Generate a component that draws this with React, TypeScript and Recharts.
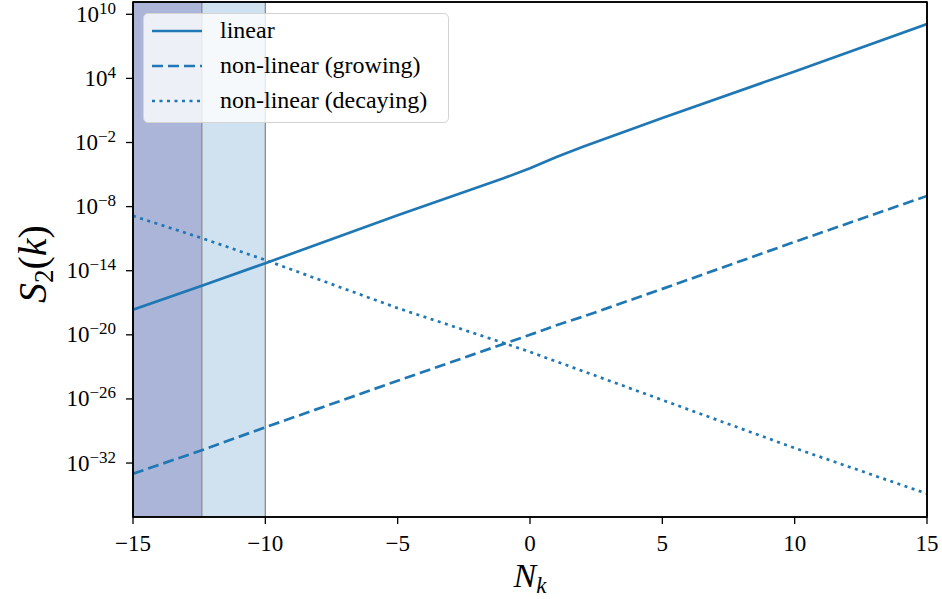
import {
  LineChart,
  Line,
  XAxis,
  YAxis,
  ReferenceArea,
  ReferenceLine,
} from 'recharts'

// N_k sample positions and log10(S2)
const nk = [-15, -12.4, -10, -5, -1, 0, 1, 2, 5, 10, 15]
const linearExp = [-17.64, -15.4, -13.3, -8.8, -5.35, -4.4, -3.35, -2.4, 0.3, 4.65, 9.08]
const growingExp = [-33.0, -30.8, -28.65, -24.3, -20.85, -20.0, -19.1, -18.3, -15.7, -11.3, -7.0]
const decayingExp = [-8.87, -10.95, -13.0, -17.5, -20.76, -21.6, -22.5, -23.4, -26.1, -30.6, -34.87]

const xTicks = [-15, -10, -5, 0, 5, 10, 15]
const yTickExps = [-32, -26, -20, -14, -8, -2, 4, 10]
const bandEdges = [-15, -12.4, -10]
const yDomain = [Math.pow(10, -37.05), Math.pow(10, 11.15)]

const data = nk.map((x, i) => ({
  x,
  linear: Math.pow(10, linearExp[i]),
  growing: Math.pow(10, growingExp[i]),
  decaying: Math.pow(10, decayingExp[i]),
}))
const yTicks = yTickExps.map((e) => Math.pow(10, e))

const SERIF = 'Liberation Serif, DejaVu Serif, serif'
const BLUE = '#1f77b4'
const minus = (n: number) => (n < 0 ? '\u2212' + -n : String(n))

function YTick({ x, y, payload }: any) {
  const e = Math.round(Math.log10(payload.value))
  return (
    <text x={x} y={y} dy={7.5} textAnchor="end" fontFamily={SERIF} fontSize={23} fill="#000">
      <tspan>10</tspan>
      <tspan dy={-8} fontSize={17}>{minus(e)}</tspan>
    </text>
  )
}

function XTick({ x, y, payload }: any) {
  return (
    <text x={x} y={y} dy={25} textAnchor="middle" fontFamily={SERIF} fontSize={23} fill="#000">
      {minus(payload.value)}
    </text>
  )
}

function Legend() {
  const rows = [
    { label: 'linear', dash: undefined },
    { label: 'non-linear (growing)', dash: '11 5' },
    { label: 'non-linear (decaying)', dash: '3 4.5' },
  ]
  return (
    <div
      style={{
        position: 'absolute',
        left: 143,
        top: 13,
        width: 306,
        height: 110,
        boxSizing: 'border-box',
        background: 'rgba(255,255,255,0.8)',
        border: '1.3px solid #d4d4d4',
        borderRadius: 5,
      }}
    >
      <svg width={306} height={110} style={{ position: 'absolute', left: -1, top: -1 }}>
        {rows.map((r, i) => (
          <g key={r.label}>
            <line
              x1={9}
              x2={59}
              y1={18 + i * 35}
              y2={18 + i * 35}
              stroke={BLUE}
              strokeWidth={2.7}
              strokeDasharray={r.dash}
            />
            <text x={77} y={25 + i * 35} fontFamily={SERIF} fontSize={24} fill="#000">
              {r.label}
            </text>
          </g>
        ))}
      </svg>
    </div>
  )
}

export default function App() {
  return (
    <div style={{ position: 'absolute', left: 0, top: 0, width: 942, height: 599, background: '#fff' }}>
      <LineChart
        width={942}
        height={599}
        data={data}
        margin={{ top: 1, right: 14, left: 0, bottom: 0 }}
      >
        <ReferenceArea x1={bandEdges[0]} x2={bandEdges[1]} fill="#aab5d8" fillOpacity={1} stroke="none" />
        <ReferenceArea x1={bandEdges[1]} x2={bandEdges[2]} fill="#d0e1ef" fillOpacity={1} stroke="none" />
        <ReferenceLine x={bandEdges[1]} stroke="#8c8c8c" strokeWidth={1.3} />
        <ReferenceLine x={bandEdges[2]} stroke="#8c8c8c" strokeWidth={1.3} />
        <XAxis
          dataKey="x"
          type="number"
          domain={[-15, 15]}
          ticks={xTicks}
          allowDataOverflow
          height={82}
          axisLine={{ stroke: '#000', strokeWidth: 1.6 }}
          tickLine={{ stroke: '#000', strokeWidth: 1.3 }}
          tickSize={7}
          tickMargin={2}
          tick={<XTick />}
          interval={0}
          label={{
            content: ({ viewBox }: any) => (
              <text
                x={viewBox.x + viewBox.width / 2}
                y={587}
                textAnchor="middle"
                fontFamily={SERIF}
                fill="#000"
              >
                <tspan fontSize={34} fontStyle="italic">N</tspan>
                <tspan fontSize={23} fontStyle="italic" dy={6}>k</tspan>
              </text>
            ),
          }}
        />
        <XAxis
          xAxisId="top"
          orientation="top"
          type="number"
          domain={[-15, 15]}
          height={1}
          tick={false}
          tickLine={false}
          axisLine={{ stroke: '#000', strokeWidth: 1.6 }}
        />
        <YAxis
          type="number"
          scale="log"
          domain={yDomain}
          allowDataOverflow
          ticks={yTicks}
          interval={0}
          width={133}
          axisLine={{ stroke: '#000', strokeWidth: 1.6 }}
          tickLine={{ stroke: '#000', strokeWidth: 1.3 }}
          tickSize={7}
          tickMargin={10}
          tick={<YTick />}
          label={{
            content: () => (
              <text
                transform="translate(46,264) rotate(-90)"
                textAnchor="middle"
                fontFamily={SERIF}
                fill="#000"
              >
                <tspan fontSize={40} fontStyle="italic">S</tspan>
                <tspan fontSize={27} dy={7}>2</tspan>
                <tspan fontSize={40} dy={-7}>(</tspan>
                <tspan fontSize={40} fontStyle="italic">k</tspan>
                <tspan fontSize={40}>)</tspan>
              </text>
            ),
          }}
        />
        <YAxis
          yAxisId="right"
          orientation="right"
          type="number"
          domain={[0, 1]}
          width={1}
          tick={false}
          tickLine={false}
          axisLine={{ stroke: '#000', strokeWidth: 1.6 }}
        />
        <Line
          type="linear"
          dataKey="linear"
          stroke={BLUE}
          strokeWidth={2.7}
          dot={false}
          activeDot={false}
          isAnimationActive={false}
        />
        <Line
          type="linear"
          dataKey="growing"
          stroke={BLUE}
          strokeWidth={2.7}
          strokeDasharray="11 5"
          dot={false}
          activeDot={false}
          isAnimationActive={false}
        />
        <Line
          type="linear"
          dataKey="decaying"
          stroke={BLUE}
          strokeWidth={2.7}
          strokeDasharray="3 4.5"
          dot={false}
          activeDot={false}
          isAnimationActive={false}
        />
      </LineChart>
      <svg
        width={942}
        height={599}
        style={{ position: 'absolute', left: 0, top: 0, pointerEvents: 'none' }}
      >
        <rect x={133} y={2} width={794} height={515} fill="none" stroke="#000" strokeWidth={1.6} />
      </svg>
      <Legend />
    </div>
  )
}
